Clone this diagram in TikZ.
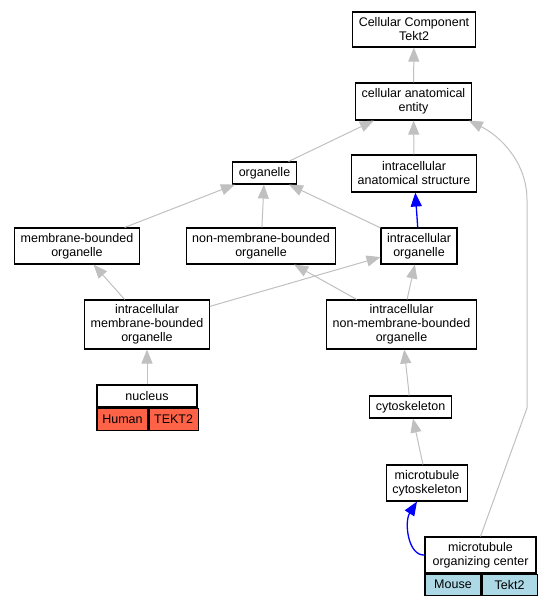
\documentclass[tikz,border=0pt]{standalone}
\usepackage{fontspec}
\setmainfont{Liberation Sans}
\usetikzlibrary{arrows.meta,positioning}

\definecolor{tomato}{RGB}{255,99,71}
\definecolor{lightblue}{RGB}{173,216,230}
\definecolor{edgegray}{RGB}{192,192,192}

\tikzset{
  term/.style={draw,line width=1.1pt,fill=white,align=center,
               inner xsep=6pt,inner ysep=0pt,minimum height=#1},
  term/.default=22pt,
  human/.style={term=22pt,inner xsep=1pt,fill=tomato,anchor=north west},
  mouse/.style={term=21pt,inner xsep=1pt,fill=lightblue,anchor=north west},
  isa/.style={draw=edgegray,line width=1pt,-{Triangle[width=11pt,length=14pt]}},
  partof/.style={draw=blue,line width=1.3pt,-{Triangle[width=11pt,length=14pt]}}
}

\begin{document}
\begin{tikzpicture}[x=1pt,y=-1pt,
                    every node/.style={font=\fontsize{12.5}{14}\selectfont}]
  \useasboundingbox (0,0) rectangle (552,605);

  \node[term=35pt]  (cc)    at (414,29.5)   {Cellular Component\\Tekt2};
  \node[term=37pt]  (cae)   at (413.5,101.5) {cellular anatomical\\entity};
  \node[term]       (org)   at (264.5,173)  {organelle};
  \node[term=37pt]  (ias)   at (414,173.5)  {intracellular\\anatomical structure};
  \node[term=36pt]  (mbo)   at (77,246)     {membrane-bounded\\organelle};
  \node[term=36pt]  (nmbo)  at (261,246)    {non-membrane-bounded\\organelle};
  \node[term=36pt]  (io)    at (419,246)    {intracellular\\organelle};
  \node[term=49pt]  (imbo)  at (147,324.5)  {intracellular\\membrane-bounded\\organelle};
  \node[term=49pt]  (inmbo) at (401.5,324.5) {intracellular\\non-membrane-bounded\\organelle};
  \node[term]       (cyto)  at (410.5,407)  {cytoskeleton};
  \node[term=36pt]  (mtc)   at (427,483)    {microtubule\\cytoskeleton};

  % annotated terms
  \node[term,minimum width=100pt]      (nuc)    at (147,396)   {nucleus};
  \node[human,minimum width=51pt]      (nucsp)  at (nuc.south west)   {Human};
  \node[human,minimum width=49pt]      (nucgn)  at (nucsp.north east) {TEKT2};
  \node[term=36pt,minimum width=111pt] (mtoc)   at (480.5,555) {microtubule\\organizing center};
  \node[mouse,minimum width=56pt]      (mtocsp) at (mtoc.south west)   {Mouse};
  \node[mouse,minimum width=55pt]      (mtocgn) at (mtocsp.north east) {Tekt2};

  \path (cae)   edge[isa] (cc)
        (org)   edge[isa] (cae)
        (ias)   edge[isa] (cae)
        (mbo)   edge[isa] (org)
        (nmbo)  edge[isa] (org)
        (io)    edge[isa] (org)
                edge[partof] (ias)
        (imbo)  edge[isa] (mbo)
                edge[isa] (io)
        (inmbo) edge[isa] (nmbo)
                edge[isa] (io)
        (nuc)   edge[isa] (imbo)
        (cyto)  edge[isa] (inmbo)
        (mtc)   edge[isa] (cyto);

  \draw[isa] (mtoc.north) -- (527,408) -- (527,200)
             .. controls (527,162) and (500,136) .. ([xshift=-3pt]cae.south east);
  \draw[partof] (mtoc.west) .. controls (408,556) and (404,522) .. ([xshift=-10pt]mtc.south);
\end{tikzpicture}
\end{document}
